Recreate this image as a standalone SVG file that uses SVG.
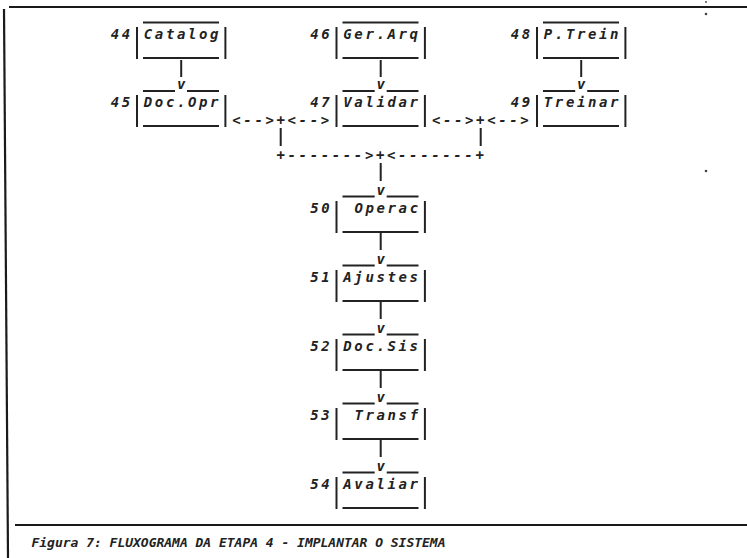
<svg xmlns="http://www.w3.org/2000/svg" width="747" height="558" viewBox="0 0 747 558">
<style>
.ln{stroke:#222;stroke-width:2;fill:none}
.fr{stroke:#1a1a1a;stroke-width:2.2;fill:none}
.t{font-family:"DejaVu Sans Mono","Liberation Mono",monospace;font-size:14px;font-style:italic;font-weight:bold;fill:#222;letter-spacing:2.62px}
.v{font-family:"DejaVu Sans Mono","Liberation Mono",monospace;font-size:14px;font-style:italic;font-weight:bold;fill:#222;text-anchor:middle}
.cap{font-family:"DejaVu Sans Mono","Liberation Mono",monospace;font-size:13px;font-style:italic;font-weight:bold;fill:#222}
</style>
<rect width="747" height="558" fill="#fff"/>
<g id="frame">
<line class="fr" x1="9" y1="7" x2="747" y2="7"/>
<line class="fr" x1="4" y1="9" x2="8" y2="558"/>
<line class="fr" x1="15" y1="525" x2="747" y2="525"/>
<circle cx="706" cy="2" r="1" fill="#555"/>
<circle cx="706" cy="14" r="1.3" fill="#444"/>
<circle cx="706" cy="171" r="1.3" fill="#444"/>
</g>
<g id="n44">
<text class="t" x="110.7" y="39">44</text>
<line class="ln" x1="137" y1="27" x2="137" y2="59"/><line class="ln" x1="225.4" y1="27" x2="225.4" y2="59"/>
<line class="ln" x1="143" y1="22.5" x2="219" y2="22.5"/><line class="ln" x1="143" y1="58" x2="219" y2="58"/>
<text class="t" x="143.8" y="39">Catalog</text>
</g>
<g id="n46">
<text class="t" x="310.2" y="39">46</text>
<line class="ln" x1="336.5" y1="27" x2="336.5" y2="59"/><line class="ln" x1="424.9" y1="27" x2="424.9" y2="59"/>
<line class="ln" x1="342.5" y1="22.5" x2="418.5" y2="22.5"/><line class="ln" x1="342.5" y1="58" x2="418.5" y2="58"/>
<text class="t" x="343.3" y="39">Ger.Arq</text>
</g>
<g id="n48">
<text class="t" x="510.7" y="39">48</text>
<line class="ln" x1="537" y1="27" x2="537" y2="59"/><line class="ln" x1="625.4" y1="27" x2="625.4" y2="59"/>
<line class="ln" x1="543" y1="22.5" x2="619" y2="22.5"/><line class="ln" x1="543" y1="58" x2="619" y2="58"/>
<text class="t" x="543.8" y="39">P.Trein</text>
</g>
<g id="n45">
<text class="t" x="110.7" y="107">45</text>
<line class="ln" x1="137" y1="95" x2="137" y2="127"/><line class="ln" x1="225.4" y1="95" x2="225.4" y2="127"/>
<line class="ln" x1="143" y1="91" x2="175" y2="91"/><line class="ln" x1="187" y1="91" x2="219" y2="91"/>
<line class="ln" x1="143" y1="126" x2="219" y2="126"/>
<text class="t" x="143.8" y="107">Doc.Opr</text>
</g>
<g id="n47">
<text class="t" x="310.2" y="107">47</text>
<line class="ln" x1="336.5" y1="95" x2="336.5" y2="127"/><line class="ln" x1="424.9" y1="95" x2="424.9" y2="127"/>
<line class="ln" x1="342.5" y1="91" x2="374.7" y2="91"/><line class="ln" x1="386.7" y1="91" x2="418.5" y2="91"/>
<line class="ln" x1="342.5" y1="126" x2="418.5" y2="126"/>
<text class="t" x="343.3" y="107">Validar</text>
</g>
<g id="n49">
<text class="t" x="510.7" y="107">49</text>
<line class="ln" x1="537" y1="95" x2="537" y2="127"/><line class="ln" x1="625.4" y1="95" x2="625.4" y2="127"/>
<line class="ln" x1="543" y1="91" x2="575.2" y2="91"/><line class="ln" x1="587.2" y1="91" x2="619" y2="91"/>
<line class="ln" x1="543" y1="126" x2="619" y2="126"/>
<text class="t" x="543.8" y="107">Treinar</text>
</g>
<g id="n50">
<text class="t" x="310.2" y="213">50</text>
<line class="ln" x1="336.5" y1="201" x2="336.5" y2="233"/><line class="ln" x1="424.9" y1="201" x2="424.9" y2="233"/>
<line class="ln" x1="342.5" y1="196.5" x2="374.7" y2="196.5"/><line class="ln" x1="386.7" y1="196.5" x2="418.5" y2="196.5"/>
<line class="ln" x1="342.5" y1="232" x2="418.5" y2="232"/>
<text class="t" x="354.4" y="213">Operac</text>
</g>
<g id="n51">
<text class="t" x="310.2" y="282">51</text>
<line class="ln" x1="336.5" y1="270" x2="336.5" y2="302"/><line class="ln" x1="424.9" y1="270" x2="424.9" y2="302"/>
<line class="ln" x1="342.5" y1="265.5" x2="374.7" y2="265.5"/><line class="ln" x1="386.7" y1="265.5" x2="418.5" y2="265.5"/>
<line class="ln" x1="342.5" y1="301" x2="418.5" y2="301"/>
<text class="t" x="343.3" y="282">Ajustes</text>
</g>
<g id="n52">
<text class="t" x="310.2" y="351">52</text>
<line class="ln" x1="336.5" y1="339" x2="336.5" y2="371"/><line class="ln" x1="424.9" y1="339" x2="424.9" y2="371"/>
<line class="ln" x1="342.5" y1="334.5" x2="374.7" y2="334.5"/><line class="ln" x1="386.7" y1="334.5" x2="418.5" y2="334.5"/>
<line class="ln" x1="342.5" y1="370" x2="418.5" y2="370"/>
<text class="t" x="343.3" y="351">Doc.Sis</text>
</g>
<g id="n53">
<text class="t" x="310.2" y="420">53</text>
<line class="ln" x1="336.5" y1="408" x2="336.5" y2="440"/><line class="ln" x1="424.9" y1="408" x2="424.9" y2="440"/>
<line class="ln" x1="342.5" y1="403.5" x2="374.7" y2="403.5"/><line class="ln" x1="386.7" y1="403.5" x2="418.5" y2="403.5"/>
<line class="ln" x1="342.5" y1="439" x2="418.5" y2="439"/>
<text class="t" x="354.4" y="420">Transf</text>
</g>
<g id="n54">
<text class="t" x="310.2" y="489">54</text>
<line class="ln" x1="336.5" y1="477" x2="336.5" y2="509"/><line class="ln" x1="424.9" y1="477" x2="424.9" y2="509"/>
<line class="ln" x1="342.5" y1="472.5" x2="374.7" y2="472.5"/><line class="ln" x1="386.7" y1="472.5" x2="418.5" y2="472.5"/>
<line class="ln" x1="342.5" y1="508" x2="418.5" y2="508"/>
<text class="t" x="343.3" y="489">Avaliar</text>
</g>
<g id="connectors">
<line class="ln" x1="181.2" y1="60" x2="181.2" y2="77"/><text class="v" x="181.2" y="89">v</text>
<line class="ln" x1="380.7" y1="60" x2="380.7" y2="77"/><text class="v" x="380.7" y="89">v</text>
<line class="ln" x1="581.2" y1="60" x2="581.2" y2="77"/><text class="v" x="581.2" y="89">v</text>
<text class="t" x="232.3" y="125">&lt;--&gt;+&lt;--&gt;</text>
<text class="t" x="431.9" y="125">&lt;--&gt;+&lt;--&gt;</text>
<line class="ln" x1="280.7" y1="128" x2="280.7" y2="146"/>
<line class="ln" x1="480.7" y1="128" x2="480.7" y2="146"/>
<text class="t" x="276.5" y="160">+-------&gt;+&lt;-------+</text>
<line class="ln" x1="380.7" y1="163" x2="380.7" y2="181"/><text class="v" x="380.7" y="195">v</text>
<line class="ln" x1="380.7" y1="233" x2="380.7" y2="250"/><text class="v" x="380.7" y="264">v</text>
<line class="ln" x1="380.7" y1="302" x2="380.7" y2="319"/><text class="v" x="380.7" y="333">v</text>
<line class="ln" x1="380.7" y1="371" x2="380.7" y2="388"/><text class="v" x="380.7" y="402">v</text>
<line class="ln" x1="380.7" y1="440" x2="380.7" y2="457"/><text class="v" x="380.7" y="471">v</text>
</g>
<g id="caption">
<text class="cap" x="31.5" y="547" textLength="414" lengthAdjust="spacing">Figura 7: FLUXOGRAMA DA ETAPA 4 - IMPLANTAR O SISTEMA</text>
</g>
</svg>
